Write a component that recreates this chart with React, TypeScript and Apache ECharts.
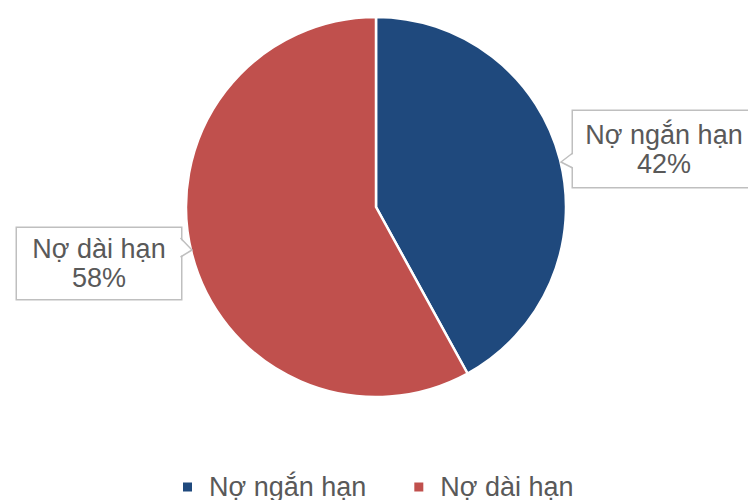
import React, { useEffect, useRef } from "react";
import * as echarts from "echarts";

const categories = ["Nợ ngắn hạn", "Nợ dài hạn"];
const values = [42, 58];
const colors = ["#1F497D", "#C0504D"];

export default function App() {
  const ref = useRef<HTMLDivElement>(null);
  useEffect(() => {
    document.body.style.margin = "0";
    const chart = echarts.init(ref.current!, null, { renderer: "svg" });
    const font = "Liberation Sans, Arial, sans-serif";
    const labelBase = {
      show: true,
      formatter: "{b}\n{d}%",
      color: "#595959",
      fontFamily: font,
      fontSize: 27,
      lineHeight: 29,
      backgroundColor: "#FFFFFF",
      borderColor: "#BFBFBF",
      borderWidth: 1.5,
      align: "center",
      overflow: "none",
    };
    const labelBoxes = [
      { x: 664, y: 149, width: 156, padding: [7, 13, 11, 13] },
      { x: 99, y: 263.5, width: 132, padding: [6, 16, 7, 16] },
    ];
    chart.setOption({
      animation: false,
      backgroundColor: "#FFFFFF",
      legend: {
        data: categories,
        left: 181,
        top: 472,
        padding: 0,
        icon: "rect",
        itemWidth: 11,
        itemHeight: 11,
        itemGap: 46,
        textStyle: {
          color: "#595959",
          fontFamily: font,
          fontSize: 27,
          lineHeight: 30,
          padding: [0, 0, 0, 11],
        },
      },
      series: [
        {
          type: "pie",
          center: [376, 207],
          radius: 190,
          startAngle: 90,
          clockwise: true,
          avoidLabelOverlap: false,
          itemStyle: { borderColor: "#FFFFFF", borderWidth: 2.5 },
          labelLine: { show: false },
          emphasis: { disabled: true },
          data: categories.map((name, i) => ({
            name,
            value: values[i],
            itemStyle: { color: colors[i] },
            label: {
              ...labelBase,
              width: labelBoxes[i].width,
              padding: labelBoxes[i].padding,
            },
          })),
          labelLayout: (params: any) => {
            const b = labelBoxes[params.dataIndex];
            return { x: b.x, y: b.y, align: "center", verticalAlign: "middle" };
          },
        },
      ],
      graphic: [
        {
          type: "polygon",
          z: 100,
          shape: { points: [[574.5, 153], [561, 162], [574.5, 168]] },
          style: { fill: "#FFFFFF" },
        },
        {
          type: "polyline",
          z: 101,
          shape: { points: [[572.7, 153], [561, 162], [572.7, 168]] },
          style: { stroke: "#BFBFBF", lineWidth: 1.5, fill: null },
        },
        {
          type: "polygon",
          z: 100,
          shape: { points: [[179, 238], [192, 250], [179, 257]] },
          style: { fill: "#FFFFFF" },
        },
        {
          type: "polyline",
          z: 101,
          shape: { points: [[180.5, 238], [192, 250], [180.5, 257]] },
          style: { stroke: "#BFBFBF", lineWidth: 1.5, fill: null },
        },
      ],
    });
    return () => chart.dispose();
  }, []);
  return <div ref={ref} style={{ width: 748, height: 500 }} />;
}
